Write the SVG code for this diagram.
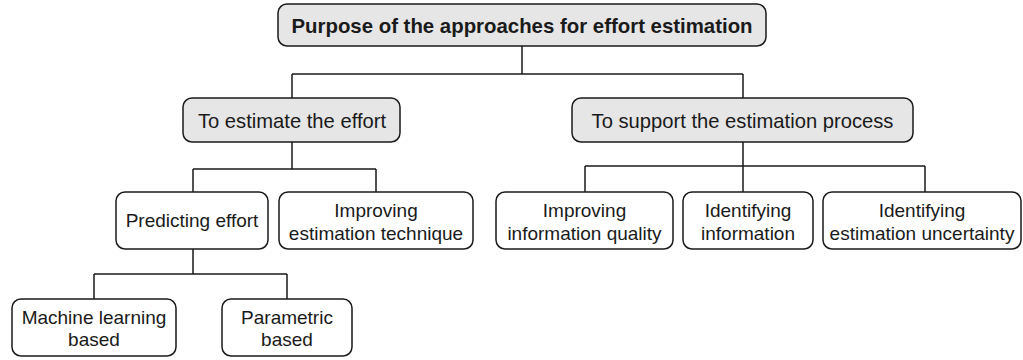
<svg xmlns="http://www.w3.org/2000/svg" width="1023" height="360" viewBox="0 0 1023 360">
<style>
.box{stroke:#1a1a1a;stroke-width:1.5;}
.g{fill:#e6e6e6;}
.w{fill:#ffffff;}
.t{font-family:"Liberation Sans",Arial,Helvetica,sans-serif;fill:#1a1a1a;text-anchor:middle;}
.b{font-size:20.4px;font-weight:bold;}
.m{font-size:20.2px;}
.s{font-size:19px;}
.c{fill:none;stroke:#1a1a1a;stroke-width:1.5;}
</style>
<rect width="1023" height="360" fill="#ffffff"/>
<g id="connectors">
<path class="c" d="M522,46 V74 M292,74 H743 M292,74 V98 M743,74 V98"/>
<path class="c" d="M292,142 V169 M193,169 H376 M193,169 V192 M376,169 V192"/>
<path class="c" d="M743,142 V192 M585,166 H925 M585,166 V192 M925,166 V192"/>
<path class="c" d="M193,249 V274 M94,274 H287 M94,274 V299 M287,274 V299"/>
</g>
<g id="root">
<rect class="box g" x="278" y="4" width="488" height="42" rx="9"/>
<text class="t b" x="522" y="33">Purpose of the approaches for effort estimation</text>
</g>
<g id="estimate">
<rect class="box g" x="183" y="98" width="217" height="44" rx="9"/>
<text class="t m" x="292" y="128">To estimate the effort</text>
</g>
<g id="support">
<rect class="box g" x="572" y="98" width="341" height="44" rx="9"/>
<text class="t m" x="742.5" y="128">To support the estimation process</text>
</g>
<g id="predicting">
<rect class="box w" x="116" y="192" width="152" height="57" rx="9"/>
<text class="t s" x="192" y="227">Predicting effort</text>
</g>
<g id="improving-technique">
<rect class="box w" x="279" y="192" width="194" height="57" rx="9"/>
<text class="t s" x="376" y="216.5">Improving</text>
<text class="t s" x="376" y="239.5">estimation technique</text>
</g>
<g id="improving-quality">
<rect class="box w" x="496" y="192" width="177" height="57" rx="9"/>
<text class="t s" x="584.5" y="216.5">Improving</text>
<text class="t s" x="584.5" y="239.5">information quality</text>
</g>
<g id="identifying-information">
<rect class="box w" x="683" y="192" width="130" height="57" rx="9"/>
<text class="t s" x="748" y="216.5">Identifying</text>
<text class="t s" x="748" y="239.5">information</text>
</g>
<g id="identifying-uncertainty">
<rect class="box w" x="823" y="192" width="198" height="57" rx="9"/>
<text class="t s" x="922" y="216.5">Identifying</text>
<text class="t s" x="922" y="239.5">estimation uncertainty</text>
</g>
<g id="machine-learning">
<rect class="box w" x="12" y="299" width="164" height="57" rx="9"/>
<text class="t s" x="94" y="323.5">Machine learning</text>
<text class="t s" x="94" y="346">based</text>
</g>
<g id="parametric">
<rect class="box w" x="222" y="299" width="130" height="57" rx="9"/>
<text class="t s" x="287" y="323.5">Parametric</text>
<text class="t s" x="287" y="346">based</text>
</g>
</svg>
